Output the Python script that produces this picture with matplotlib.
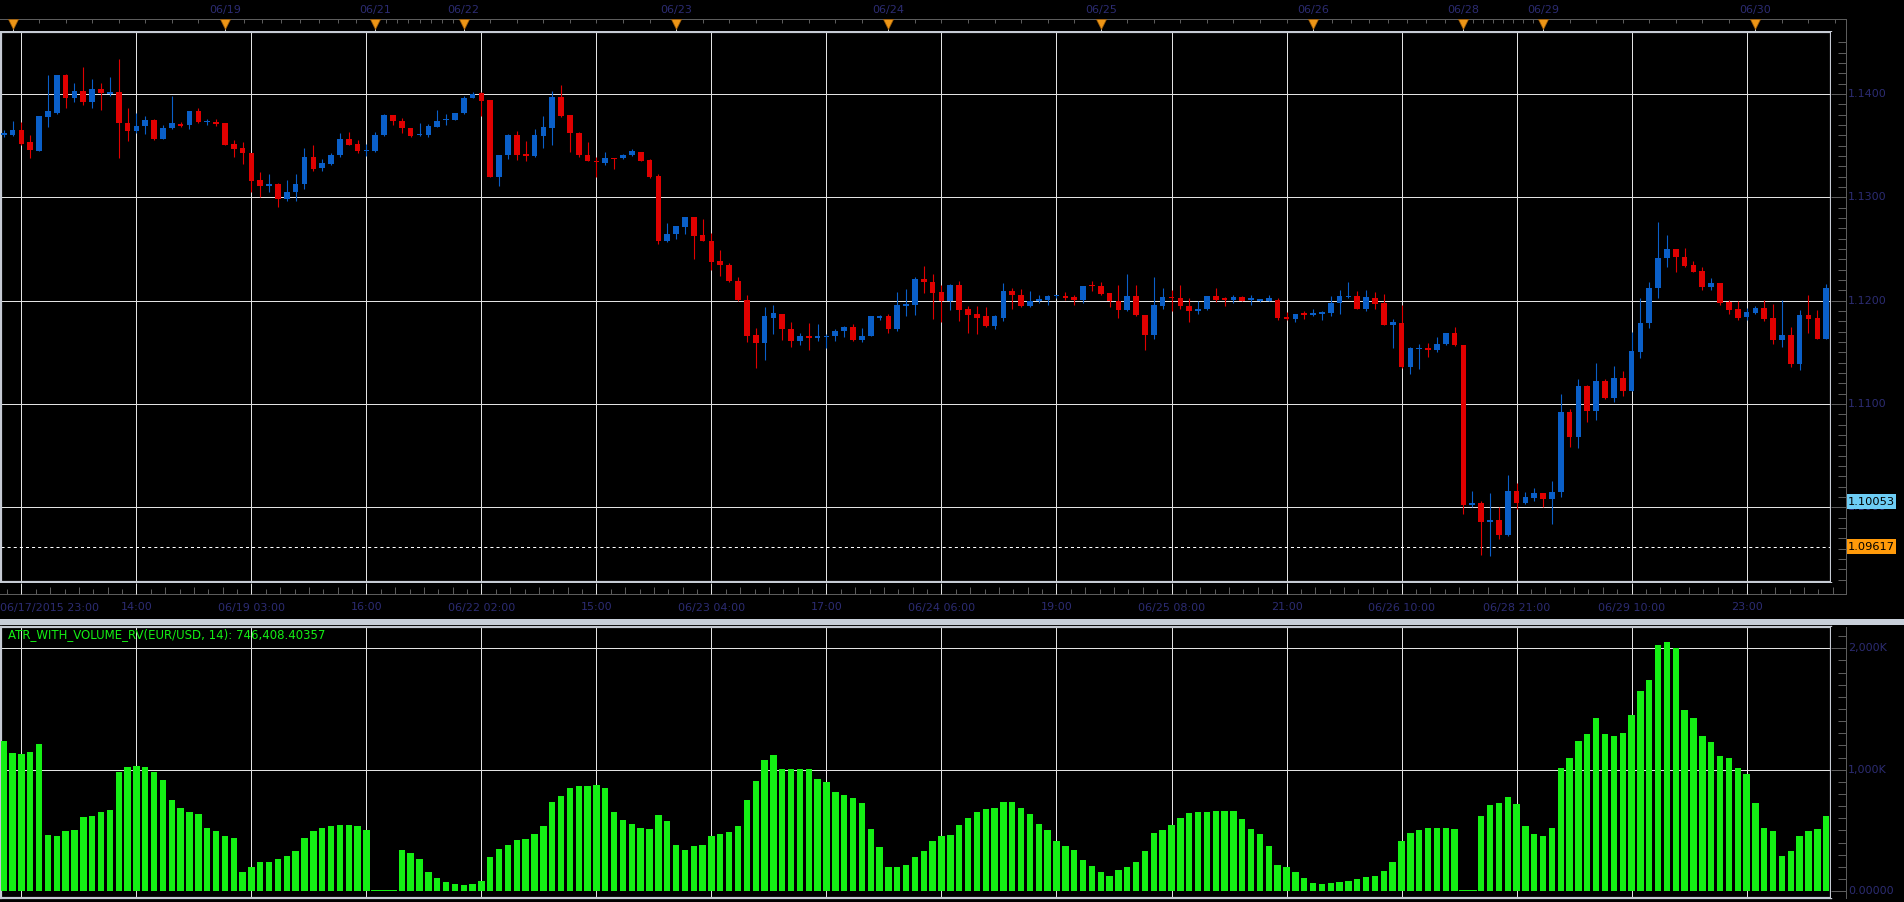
'''
eurusd_atr_chart.py
-------------------
Hourly EUR/USD candles (06/17 - 06/30 2015) on a black trading
terminal background, with the ATR_WITH_VOLUME_RV histogram below.
'''

## importing modules
import matplotlib
matplotlib.use('Agg')
import matplotlib.pyplot as plt
from matplotlib.lines import Line2D
from matplotlib.patches import Rectangle

## ---------------------------------------------------------------
## data (one candle / bar per hour)
## ---------------------------------------------------------------
opens = [
    1.1360, 1.1360, 1.1365, 1.1353, 1.1345, 1.1378, 1.1382, 1.1418, 1.1396, 1.1403,
    1.1392, 1.1405, 1.1400, 1.1402, 1.1372, 1.1364, 1.1369, 1.1375, 1.1356, 1.1367,
    1.1371, 1.1370, 1.1383, 1.1373, 1.1373, 1.1372, 1.1352, 1.1348, 1.1343, 1.1317,
    1.1311, 1.1313, 1.1298, 1.1305, 1.1313, 1.1339, 1.1328, 1.1332, 1.1341, 1.1356,
    1.1352, 1.1345, 1.1345, 1.1360, 1.1380, 1.1374, 1.1367, 1.1360, 1.1360, 1.1368,
    1.1375, 1.1375, 1.1382, 1.1396, 1.1401, 1.1394, 1.1320, 1.1341, 1.1360, 1.1342,
    1.1340, 1.1359, 1.1367, 1.1397, 1.1380, 1.1362, 1.1341, 1.1335, 1.1333, 1.1338,
    1.1338, 1.1341, 1.1344, 1.1336, 1.1321, 1.1258, 1.1264, 1.1271, 1.1281, 1.1263,
    1.1258, 1.1238, 1.1234, 1.1219, 1.1201, 1.1167, 1.1159, 1.1183, 1.1187, 1.1172,
    1.1161, 1.1166, 1.1164, 1.1165, 1.1166, 1.1171, 1.1174, 1.1162, 1.1166, 1.1183,
    1.1185, 1.1172, 1.1195, 1.1196, 1.1221, 1.1218, 1.1208, 1.1200, 1.1215, 1.1192,
    1.1187, 1.1185, 1.1175, 1.1183, 1.1209, 1.1205, 1.1195, 1.1200, 1.1201, 1.1204,
    1.1204, 1.1203, 1.1201, 1.1215, 1.1214, 1.1207, 1.1200, 1.1191, 1.1204, 1.1186,
    1.1167, 1.1195, 1.1203, 1.1202, 1.1195, 1.1190, 1.1192, 1.1204, 1.1202, 1.1201,
    1.1203, 1.1201, 1.1200, 1.1200, 1.1201, 1.1184, 1.1182, 1.1188, 1.1186, 1.1187,
    1.1188, 1.1198, 1.1203, 1.1204, 1.1192, 1.1202, 1.1198, 1.1176, 1.1178, 1.1136,
    1.1153, 1.1154, 1.1152, 1.1158, 1.1169, 1.1157, 1.1002, 1.1004, 1.0986, 1.0988,
    1.0973, 1.1016, 1.1004, 1.1009, 1.1014, 1.1008, 1.1015, 1.1092, 1.1068, 1.1117,
    1.1093, 1.1122, 1.1106, 1.1125, 1.1112, 1.1150, 1.1178, 1.1212, 1.1241, 1.1250,
    1.1242, 1.1234, 1.1229, 1.1213, 1.1217, 1.1199, 1.1192, 1.1184, 1.1188, 1.1193,
    1.1183, 1.1162, 1.1167, 1.1139, 1.1186, 1.1183, 1.1163,
]

highs = [
    1.1365, 1.1374, 1.1373, 1.1360, 1.1379, 1.1418, 1.1418, 1.1419, 1.1411, 1.1426,
    1.1414, 1.1411, 1.1416, 1.1434, 1.1386, 1.1382, 1.1379, 1.1376, 1.1370, 1.1398,
    1.1373, 1.1383, 1.1386, 1.1376, 1.1376, 1.1372, 1.1355, 1.1353, 1.1343, 1.1324,
    1.1322, 1.1314, 1.1317, 1.1322, 1.1348, 1.1351, 1.1337, 1.1343, 1.1362, 1.1363,
    1.1355, 1.1352, 1.1363, 1.1381, 1.1380, 1.1377, 1.1367, 1.1372, 1.1371, 1.1384,
    1.1381, 1.1382, 1.1398, 1.1402, 1.1402, 1.1394, 1.1341, 1.1361, 1.1364, 1.1354,
    1.1366, 1.1379, 1.1403, 1.1409, 1.1380, 1.1363, 1.1353, 1.1339, 1.1344, 1.1338,
    1.1342, 1.1347, 1.1344, 1.1337, 1.1322, 1.1275, 1.1272, 1.1281, 1.1281, 1.1279,
    1.1265, 1.1249, 1.1236, 1.1223, 1.1205, 1.1173, 1.1194, 1.1196, 1.1187, 1.1179,
    1.1169, 1.1178, 1.1177, 1.1168, 1.1172, 1.1175, 1.1177, 1.1173, 1.1185, 1.1186,
    1.1187, 1.1208, 1.1211, 1.1223, 1.1233, 1.1226, 1.1215, 1.1216, 1.1219, 1.1195,
    1.1195, 1.1194, 1.1186, 1.1217, 1.1212, 1.1211, 1.1209, 1.1205, 1.1205, 1.1205,
    1.1208, 1.1205, 1.1214, 1.1219, 1.1218, 1.1207, 1.1215, 1.1226, 1.1215, 1.1186,
    1.1223, 1.1212, 1.1210, 1.1215, 1.1202, 1.1200, 1.1204, 1.1212, 1.1203, 1.1205,
    1.1204, 1.1205, 1.1201, 1.1205, 1.1202, 1.1189, 1.1187, 1.1190, 1.1192, 1.1190,
    1.1204, 1.1210, 1.1218, 1.1209, 1.1210, 1.1208, 1.1206, 1.1182, 1.1196, 1.1155,
    1.1158, 1.1159, 1.1165, 1.1169, 1.1174, 1.1157, 1.1016, 1.1006, 1.1014, 1.1000,
    1.1031, 1.1023, 1.1015, 1.1019, 1.1014, 1.1025, 1.1110, 1.1095, 1.1124, 1.1118,
    1.1140, 1.1124, 1.1137, 1.1132, 1.1170, 1.1202, 1.1218, 1.1276, 1.1263, 1.1250,
    1.1251, 1.1238, 1.1232, 1.1222, 1.1217, 1.1201, 1.1200, 1.1193, 1.1195, 1.1201,
    1.1197, 1.1201, 1.1174, 1.1191, 1.1205, 1.1191, 1.1216,
]

lows = [
    1.1358, 1.1359, 1.1351, 1.1338, 1.1345, 1.1368, 1.1381, 1.1386, 1.1392, 1.1389,
    1.1386, 1.1384, 1.1398, 1.1338, 1.1354, 1.1362, 1.1361, 1.1355, 1.1356, 1.1366,
    1.1368, 1.1366, 1.1372, 1.1370, 1.1369, 1.1351, 1.1339, 1.1332, 1.1305, 1.1300,
    1.1305, 1.1291, 1.1296, 1.1296, 1.1308, 1.1325, 1.1325, 1.1331, 1.1339, 1.1351,
    1.1343, 1.1340, 1.1344, 1.1359, 1.1370, 1.1362, 1.1358, 1.1359, 1.1358, 1.1368,
    1.1370, 1.1375, 1.1381, 1.1396, 1.1379, 1.1320, 1.1311, 1.1337, 1.1336, 1.1335,
    1.1339, 1.1348, 1.1351, 1.1378, 1.1344, 1.1339, 1.1335, 1.1320, 1.1331, 1.1327,
    1.1337, 1.1340, 1.1335, 1.1319, 1.1255, 1.1257, 1.1260, 1.1264, 1.1240, 1.1258,
    1.1230, 1.1224, 1.1218, 1.1200, 1.1160, 1.1135, 1.1142, 1.1168, 1.1162, 1.1155,
    1.1157, 1.1152, 1.1161, 1.1154, 1.1161, 1.1165, 1.1161, 1.1160, 1.1166, 1.1181,
    1.1169, 1.1171, 1.1185, 1.1186, 1.1207, 1.1182, 1.1179, 1.1191, 1.1180, 1.1169,
    1.1168, 1.1174, 1.1172, 1.1180, 1.1192, 1.1194, 1.1194, 1.1198, 1.1196, 1.1202,
    1.1201, 1.1196, 1.1198, 1.1209, 1.1205, 1.1194, 1.1183, 1.1190, 1.1185, 1.1152,
    1.1163, 1.1192, 1.1190, 1.1192, 1.1179, 1.1187, 1.1191, 1.1199, 1.1195, 1.1198,
    1.1200, 1.1196, 1.1199, 1.1200, 1.1181, 1.1181, 1.1179, 1.1182, 1.1185, 1.1181,
    1.1185, 1.1187, 1.1202, 1.1192, 1.1190, 1.1192, 1.1176, 1.1154, 1.1135, 1.1129,
    1.1134, 1.1145, 1.1150, 1.1157, 1.1156, 1.0993, 1.1000, 1.0954, 1.0953, 1.0969,
    1.0972, 1.0998, 1.1003, 1.1006, 1.1000, 1.0984, 1.1010, 1.1058, 1.1057, 1.1082,
    1.1084, 1.1105, 1.1102, 1.1108, 1.1112, 1.1144, 1.1173, 1.1202, 1.1232, 1.1228,
    1.1232, 1.1228, 1.1210, 1.1210, 1.1196, 1.1187, 1.1181, 1.1181, 1.1187, 1.1180,
    1.1158, 1.1155, 1.1136, 1.1133, 1.1169, 1.1163, 1.1163,
]

closes = [
    1.1362, 1.1365, 1.1352, 1.1346, 1.1379, 1.1383, 1.1418, 1.1396, 1.1403, 1.1392,
    1.1405, 1.1401, 1.1402, 1.1372, 1.1364, 1.1369, 1.1375, 1.1356, 1.1367, 1.1372,
    1.1369, 1.1383, 1.1373, 1.1374, 1.1371, 1.1351, 1.1347, 1.1343, 1.1316, 1.1311,
    1.1313, 1.1298, 1.1305, 1.1313, 1.1339, 1.1327, 1.1333, 1.1341, 1.1356, 1.1351,
    1.1345, 1.1346, 1.1360, 1.1380, 1.1374, 1.1367, 1.1359, 1.1361, 1.1369, 1.1374,
    1.1376, 1.1382, 1.1396, 1.1400, 1.1393, 1.1320, 1.1341, 1.1360, 1.1341, 1.1340,
    1.1360, 1.1368, 1.1397, 1.1379, 1.1362, 1.1341, 1.1335, 1.1334, 1.1338, 1.1337,
    1.1341, 1.1345, 1.1335, 1.1320, 1.1258, 1.1264, 1.1272, 1.1281, 1.1262, 1.1258,
    1.1237, 1.1234, 1.1219, 1.1201, 1.1166, 1.1159, 1.1185, 1.1188, 1.1172, 1.1161,
    1.1166, 1.1164, 1.1166, 1.1166, 1.1171, 1.1174, 1.1162, 1.1166, 1.1185, 1.1185,
    1.1172, 1.1196, 1.1197, 1.1221, 1.1218, 1.1207, 1.1200, 1.1215, 1.1191, 1.1186,
    1.1183, 1.1175, 1.1185, 1.1209, 1.1205, 1.1195, 1.1200, 1.1201, 1.1204, 1.1204,
    1.1202, 1.1201, 1.1214, 1.1214, 1.1206, 1.1200, 1.1191, 1.1204, 1.1186, 1.1167,
    1.1196, 1.1203, 1.1202, 1.1195, 1.1190, 1.1192, 1.1204, 1.1201, 1.1201, 1.1203,
    1.1200, 1.1202, 1.1201, 1.1202, 1.1183, 1.1182, 1.1187, 1.1186, 1.1188, 1.1189,
    1.1198, 1.1204, 1.1204, 1.1192, 1.1203, 1.1197, 1.1176, 1.1179, 1.1136, 1.1154,
    1.1154, 1.1152, 1.1158, 1.1169, 1.1157, 1.1002, 1.1004, 1.0986, 1.0988, 1.0973,
    1.1016, 1.1004, 1.1010, 1.1014, 1.1008, 1.1015, 1.1092, 1.1068, 1.1117, 1.1093,
    1.1122, 1.1106, 1.1125, 1.1112, 1.1151, 1.1178, 1.1212, 1.1241, 1.1250, 1.1242,
    1.1233, 1.1228, 1.1213, 1.1217, 1.1198, 1.1191, 1.1183, 1.1189, 1.1193, 1.1182,
    1.1162, 1.1167, 1.1139, 1.1186, 1.1182, 1.1163, 1.1212,
]

## ATR_WITH_VOLUME_RV values, in thousands
atr_k = [
    1236, 1136, 1127, 1145, 1209, 464, 450, 491, 505, 614,
    618, 655, 668, 982, 1023, 1032, 1018, 982, 914, 750,
    686, 655, 636, 523, 491, 455, 441, 159, 200, 236,
    241, 268, 291, 327, 441, 495, 523, 532, 541, 541,
    532, 505, 0, 0, 0, 341, 314, 268, 155, 105,
    77, 59, 50, 59, 86, 282, 350, 382, 423, 432,
    468, 536, 732, 782, 850, 864, 864, 873, 850, 655,
    586, 555, 523, 514, 627, 577, 382, 336, 368, 382,
    455, 468, 486, 532, 750, 905, 1077, 1118, 1004, 1004,
    1004, 1004, 923, 900, 818, 791, 768, 727, 514, 359,
    200, 200, 218, 282, 332, 409, 450, 464, 545, 605,
    655, 677, 686, 736, 736, 686, 636, 555, 505, 409,
    368, 341, 259, 209, 155, 127, 177, 200, 236, 332,
    482, 505, 545, 605, 645, 655, 655, 659, 659, 659,
    595, 514, 473, 368, 218, 200, 159, 105, 64, 55,
    64, 77, 86, 100, 118, 127, 168, 241, 414, 482,
    505, 523, 523, 523, 514, 0, 0, 618, 709, 727,
    777, 718, 536, 473, 450, 523, 1014, 1095, 1236, 1291,
    1423, 1291, 1277, 1300, 1454, 1650, 1741, 2023, 2054, 2004,
    1495, 1423, 1277, 1227, 1114, 1095, 1014, 964, 727, 523,
    495, 291, 327, 450, 491, 514, 618,
]

## bottom time axis labels (one every 13 bars, starting at bar 2)
time_labels = ['06/17/2015 23:00', '14:00', '06/19 03:00', '16:00',
               '06/22 02:00', '15:00', '06/23 04:00', '17:00',
               '06/24 06:00', '19:00', '06/25 08:00', '21:00',
               '06/26 10:00', '06/28 21:00', '06/29 10:00', '23:00']
time_bars = list(range(2, 2 + 13 * len(time_labels), 13))

## day separators on the top strip
day_bars = [1, 25, 42, 52, 76, 100, 124, 148, 165, 174, 198]
day_labels = ['', '06/19', '06/21', '06/22', '06/23', '06/24',
              '06/25', '06/26', '06/28', '06/29', '06/30']

## right scales
price_levels = [1.10, 1.11, 1.12, 1.13, 1.14]
price_labels = ['1.1000', '1.1100', '1.1200', '1.1300', '1.1400']
atr_levels = [0, 1000, 2000]
atr_labels = ['0.00000', '1,000K', '2,000K']
bid_price = 1.10053
line_price = 1.09617

## ---------------------------------------------------------------
## styling
## ---------------------------------------------------------------
W, H, DPI = 1904, 902, 100
X0, DX = 3.7, 8.847          ## pixel of bar 0 and pixels per bar
PX = 0.72                    ## one pixel in points
FS = 8.0                     ## axis label size

BLUE = '#0a5fc8'
RED = '#e00000'
GREEN = '#14f014'
GRID = '#e2e2e2'
FRAME = '#c6cbd4'
AXIS = '#5c5c5c'
LABEL = '#2c2c72'
ORANGE = '#ee9616'

plt.rcParams['font.family'] = ['DejaVu Sans']
plt.rcParams['lines.scale_dashes'] = False

fig = plt.figure(figsize=(W / DPI, H / DPI), dpi=DPI, facecolor='#000000')


def px_lim(left, right):
    '''bar-index limits of a pixel span'''
    return ((left - X0) / DX, (right - X0) / DX)


def px_axes(left, top, right, bottom):
    '''axes placed by pixel box, y counted from the top'''
    ax = fig.add_axes([left / W, 1 - bottom / H, (right - left) / W, (bottom - top) / H])
    ax.set_facecolor('#000000')
    ax.set_xticks([])
    ax.set_yticks([])
    return ax


def strip(ax):
    '''decoration axes: black, no frame'''
    for s in ax.spines.values():
        s.set_visible(False)


def fig_line(x0, y0, x1, y1, color, lw=1):
    '''straight line in figure pixels'''
    fig.add_artist(Line2D([x0 / W, x1 / W], [1 - y0 / H, 1 - y1 / H],
                          transform=fig.transFigure, color=color, lw=lw * PX))


def frame(ax):
    for s in ax.spines.values():
        s.set_color(FRAME)
        s.set_linewidth(2.2 * PX)


## ---------------------------------------------------------------
## price panel
## ---------------------------------------------------------------
ax_price = px_axes(1, 32, 1831, 582)
ax_price.set_xlim(px_lim(1, 1831))
ax_price.set_ylim(1.092759, 1.145992)
frame(ax_price)

ax_price.hlines(price_levels, -5, 215, colors=GRID, lw=PX, zorder=1)
ax_price.vlines(time_bars, 1.0, 1.2, colors=GRID, lw=PX, zorder=1)
ax_price.axhline(line_price, color='white', lw=PX, ls=(0, (2.2, 2.2)), zorder=1)

bars = list(range(len(opens)))
colors = [BLUE if c >= o else RED for o, c in zip(opens, closes)]
body_low = [min(o, c) for o, c in zip(opens, closes)]
body_h = [max(abs(c - o), 0.00011) for o, c in zip(opens, closes)]
ax_price.vlines(bars, lows, highs, colors=colors, lw=1.1 * PX, zorder=3)
ax_price.bar(bars, body_h, bottom=body_low, width=0.64, color=colors, lw=0, zorder=4)

## ---------------------------------------------------------------
## ATR panel
## ---------------------------------------------------------------
ax_atr = px_axes(1, 627, 1831, 898)
ax_atr.set_xlim(px_lim(1, 1831))
ax_atr.set_ylim(-57, 2175)
frame(ax_atr)

ax_atr.hlines(atr_levels[1:], -5, 215, colors=GRID, lw=PX, zorder=1)
ax_atr.vlines(time_bars, -100, 2500, colors=GRID, lw=PX, zorder=1)

atr_h = [v if v > 0 else 7 for v in atr_k]
atr_w = [0.72 if v > 0 else 1.0 for v in atr_k]
ax_atr.bar(bars, atr_h, width=atr_w, color=GREEN, lw=0, zorder=3)

fig.text(8 / W, 1 - 635 / H, 'ATR_WITH_VOLUME_RV(EUR/USD, 14): 746,408.40357',
         color=GREEN, fontsize=8.5, va='center', ha='left')

## ---------------------------------------------------------------
## top strip: day markers
## ---------------------------------------------------------------
ax_top = px_axes(0, 0, 1846, 31)
strip(ax_top)
ax_top.set_xlim(px_lim(0, 1846))
ax_top.set_ylim(31, 0)

ax_top.hlines(19, -1, 209, colors=AXIS, lw=PX)
top_ticks = []
for a, b in zip(day_bars[:-1], day_bars[1:]):
    top_ticks += [a + (b - a) * m / 8 for m in range(1, 8)]
top_ticks += [day_bars[-1] + 3 * m for m in range(1, 4)]
ax_top.vlines(top_ticks, 19, 23, colors=AXIS, lw=PX)
ax_top.vlines(day_bars, 26, 31, colors='#cccccc', lw=PX)
ax_top.plot(day_bars, [23.8] * len(day_bars), 'v', ms=6.8, color=ORANGE,
            mec='#9a5a08', mew=0.5)
for b, lab in zip(day_bars, day_labels):
    ax_top.text(b, 10, lab, color=LABEL, fontsize=FS, ha='center', va='center')

## ---------------------------------------------------------------
## bottom strip: time axis
## ---------------------------------------------------------------
ax_bot = px_axes(0, 583, 1846, 618)
strip(ax_bot)
ax_bot.set_xlim(px_lim(0, 1846))
ax_bot.set_ylim(618, 583)

ax_bot.hlines(594, -1, 209, colors=AXIS, lw=PX)
ax_bot.vlines(time_bars, 583, 594, colors=GRID, lw=PX)
minor = [g + 13 * m / 8 for g in range(-11, 210, 13) for m in range(1, 8)]
minor = [t for t in minor if -0.4 < t < 208.2]
ax_bot.vlines(minor, [587 if round(t * 8 / 13) % 2 else 589 for t in minor], 594,
              colors=AXIS, lw=PX)
for k, (b, lab) in enumerate(zip(time_bars, time_labels)):
    if k == 0:
        ax_bot.text(px_lim(0, 0)[0], 607.5, lab, color=LABEL, fontsize=FS,
                    ha='left', va='center')
    else:
        ax_bot.text(b, 607.5, lab, color=LABEL, fontsize=FS, ha='center', va='center')

## separator band between the two panels
fig.add_artist(Rectangle((0, 1 - 624.5 / H), 1, 5.5 / H, transform=fig.transFigure,
                         facecolor='#c8cfd9', edgecolor='none'))

## ---------------------------------------------------------------
## right price scale
## ---------------------------------------------------------------
fig_line(1846, 19, 1846, 594, AXIS)
ax_r = px_axes(1831, 32, 1904, 582)
strip(ax_r)
ax_r.set_xlim(1831, 1904)
ax_r.set_ylim(ax_price.get_ylim())

minor_prices = [1.093 + 0.001 * k for k in range(53)]
ax_r.hlines(minor_prices, 1838, 1846, colors=AXIS, lw=PX)
ax_r.hlines(price_levels, 1831, 1846, colors=AXIS, lw=PX)
for p, lab in zip(price_levels, price_labels):
    ## the 1.1000 label sits under the bid tag, as on the terminal
    ax_r.text(1848, p, lab, color=LABEL, fontsize=FS, ha='left', va='center', zorder=2)

tag_h = 15 / 103.3 * 0.01
for p, face in [(bid_price, '#6dcdf5'), (line_price, '#ff9a0a')]:
    ax_r.add_patch(Rectangle((1846.5, p - tag_h / 2), 49, tag_h,
                             facecolor=face, edgecolor='none', zorder=5))
    ax_r.text(1848, p, '%.5f' % p, color='black', fontsize=8.2,
              ha='left', va='center', zorder=6)

## ---------------------------------------------------------------
## right ATR scale
## ---------------------------------------------------------------
fig_line(1846, 627, 1846, 898, AXIS)
ax_r2 = px_axes(1831, 627, 1904, 898)
strip(ax_r2)
ax_r2.set_xlim(1831, 1904)
ax_r2.set_ylim(ax_atr.get_ylim())

ax_r2.hlines([100 * k for k in range(22)], 1838, 1846, colors=AXIS, lw=PX)
ax_r2.hlines(atr_levels, 1831, 1846, colors=AXIS, lw=PX)
for v, lab in zip(atr_levels, atr_labels):
    ax_r2.text(1848, v, lab, color=LABEL, fontsize=FS, ha='left', va='center')

fig.savefig('out.png', dpi=DPI, facecolor='#000000')
